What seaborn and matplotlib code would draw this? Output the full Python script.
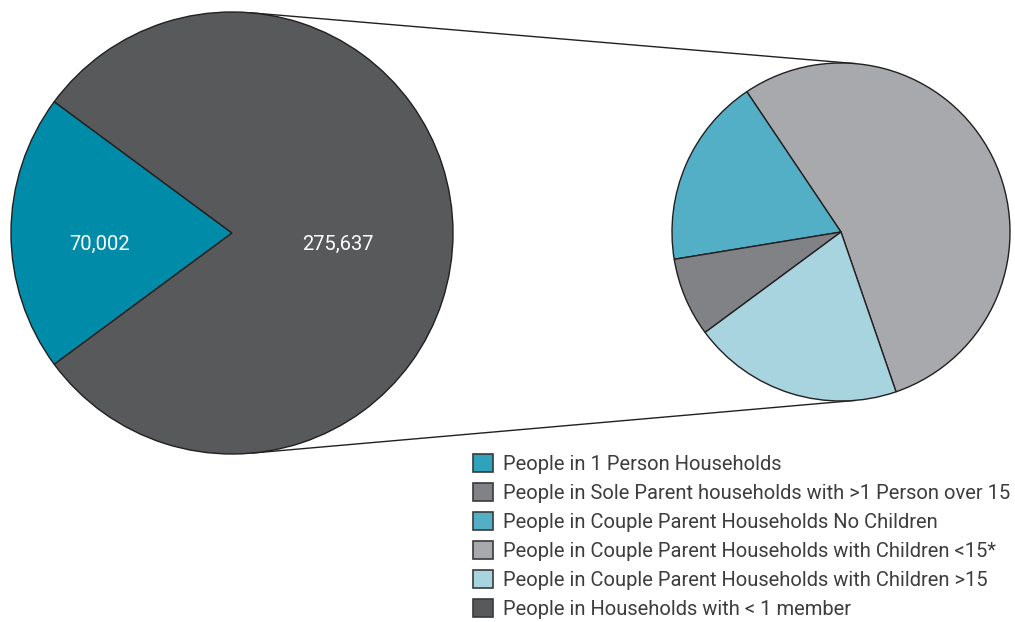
import numpy as np
import matplotlib
matplotlib.use("Agg")
import matplotlib.pyplot as plt
from matplotlib.patches import Patch
import seaborn as sns

# Household composition: main split and breakdown of the larger group
main_labels = ["People in 1 Person Households", "People in Households with < 1 member"]
main_values = [70002, 275637]

sub_labels = [
    "People in Couple Parent Households with Children <15*",
    "People in Couple Parent Households No Children",
    "People in Sole Parent households with >1 Person over 15",
    "People in Couple Parent Households with Children >15",
]
sub_values = [149200, 50100, 20800, 55537]

legend_order = [
    "People in 1 Person Households",
    "People in Sole Parent households with >1 Person over 15",
    "People in Couple Parent Households No Children",
    "People in Couple Parent Households with Children <15*",
    "People in Couple Parent Households with Children >15",
    "People in Households with < 1 member",
]

colors = {
    "People in 1 Person Households": "#008ca8",
    "People in Households with < 1 member": "#58595b",
    "People in Couple Parent Households with Children <15*": "#a7a9ac",
    "People in Couple Parent Households No Children": "#52afc6",
    "People in Sole Parent households with >1 Person over 15": "#808285",
    "People in Couple Parent Households with Children >15": "#a8d4e0",
}
legend_colors = dict(colors)
legend_colors["People in 1 Person Households"] = "#2ea3bb"

sns.set_theme(style="white")
plt.rcParams["font.family"] = ["Roboto", "DejaVu Sans"]

W, H = 1015, 622
fig = plt.figure(figsize=(W / 100, H / 100), dpi=100)
ax = fig.add_axes([0, 0, 1, 1])

c_main, r_main = (232, 389), 221
c_sub, r_sub = (841, 390), 169
edge = dict(edgecolor="#231f20", linewidth=1.0)

main_total = sum(main_values)
start_main = 180 - 360 * main_values[0] / main_total / 2
wedges_main, _ = ax.pie(main_values, colors=[colors[l] for l in main_labels],
                        center=c_main, radius=r_main, startangle=start_main,
                        counterclock=True, wedgeprops=edge, frame=True)

wedges_sub, _ = ax.pie(sub_values, colors=[colors[l] for l in sub_labels],
                       center=c_sub, radius=r_sub, startangle=-71,
                       counterclock=True, wedgeprops=edge, frame=True)

# value labels inside the main pie
for w, v, dist in zip(wedges_main, main_values, [0.60, 0.48]):
    mid = np.deg2rad((w.theta1 + w.theta2) / 2)
    x = c_main[0] + r_main * dist * np.cos(mid)
    y = c_main[1] + r_main * dist * np.sin(mid) - 11
    ax.text(x, y, f"{v:,}", color="white", fontsize=14.5, ha="center",
            va="center")

# external tangent connectors between the two pies
D = np.array(c_sub, float) - np.array(c_main, float)
d = np.hypot(*D)
phi = np.arctan2(D[1], D[0])
beta = np.arccos((r_main - r_sub) / d)
for s in (1, -1):
    u = np.array([np.cos(phi + s * beta), np.sin(phi + s * beta)])
    p1 = np.array(c_main) + r_main * u
    p2 = np.array(c_sub) + r_sub * u
    ax.plot([p1[0], p2[0]], [p1[1], p2[1]], color="#231f20", lw=1.0, zorder=0)

ax.set_xlim(0, W)
ax.set_ylim(0, H)
ax.set_aspect("equal")
ax.axis("off")

handles = [Patch(facecolor=legend_colors[l], edgecolor="#3a3a3a", linewidth=1.2)
           for l in legend_order]
leg = fig.legend(handles, legend_order, loc="upper left",
                 bbox_to_anchor=(469 / W, 1 - 450 / H), frameon=False,
                 fontsize=14.5, handlelength=1.0, handleheight=1.0,
                 handletextpad=0.47, labelspacing=0.45, borderaxespad=0,
                 borderpad=0.2)
for t in leg.get_texts():
    t.set_color("#3d3d3d")

fig.savefig("out.png", dpi=100)
